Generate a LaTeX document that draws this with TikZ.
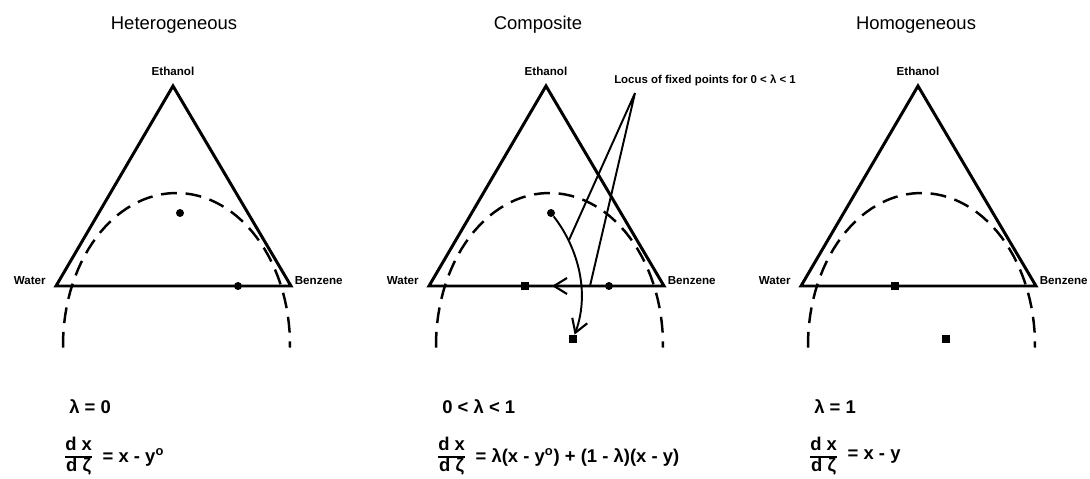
\documentclass[tikz,border=0pt]{standalone}
\usepackage{fontspec}
\setmainfont{Liberation Sans}
\usetikzlibrary{arrows.meta,positioning}

\newcommand{\dxdz}{{\renewcommand{\arraystretch}{0.95}\setlength{\arrayrulewidth}{0.8pt}%
  \begin{tabular}{@{}c@{}}d x\\\hline d ζ\end{tabular}}}

\begin{document}
\begin{tikzpicture}[
    x=0.02cm, y=-0.02cm,
    triline/.style={line width=1.7pt, line join=miter},
    binodal/.style={line width=1.4pt, dash pattern=on 9pt off 5pt},
    pathline/.style={line width=1.1pt},
    corner/.style={inner sep=0pt, font=\fontsize{6.6}{8}\selectfont\bfseries},
    paneltitle/.style={inner sep=0pt, font=\fontsize{10.5}{12}\selectfont},
    eqtext/.style={inner sep=0pt, anchor=west, font=\fontsize{10.5}{12}\selectfont\bfseries},
    fixdot/.style={circle, fill, inner sep=0pt, minimum size=0.16cm},
    fixsq/.style={rectangle, fill, inner sep=0pt, minimum size=0.16cm},
    flowarrow/.style={pathline, -{Straight Barb[length=2.6mm, width=3.2mm, line width=1.2pt]}}
  ]
  \useasboundingbox (0,0) rectangle (1090,479);

  % the three ternary diagrams share the frame
  \foreach \px/\dx/\ttl/\lam/\rhs [count=\i] in {
      173/1/Heterogeneous/{λ = 0}/{= x - y\textsuperscript{o}},
      546/-8/Composite/{0 < λ < 1}/{= λ(x - y\textsuperscript{o}) + (1 - λ)(x - y)},
      918/-2/Homogeneous/{λ = 1}/{= x - y}} {
    \begin{scope}[shift={(\px,0)}]
      \coordinate (eth\i) at (0,86);
      \coordinate (wat\i) at (-117,286);
      \coordinate (ben\i) at (118,286);
      \draw[triline] (wat\i) -- (eth\i) -- (ben\i) -- cycle;
      \draw[binodal] plot[domain=181:-1, samples=60] ({3.5+113.5*cos(\x)},{345-152*sin(\x)});
      \node[paneltitle] (title\i) at (\dx,25) {\ttl};
      \node[corner, above=0.2cm of eth\i] (ethlbl\i) {Ethanol};
      \node[corner, left=0.2cm of wat\i, yshift=3pt] (watlbl\i) {Water};
      \node[corner, right=0.07cm of ben\i, yshift=3pt] (benlbl\i) {Benzene};
      \node[eqtext] (lam\i) at (-104,407) {\lam};
      \node[eqtext] (frac\i) at (-108,457) {\dxdz};
      \node[eqtext, right=0.2cm of frac\i] (rhs\i) {\rhs};
    \end{scope}
  }

  % heterogeneous
  \node[fixdot] (p1) at (180,213) {};
  \node[fixdot] (q1) at (238,286) {};

  % composite
  \node[fixdot] (p2) at (551,213) {};
  \node[fixsq] (s2) at (525,286) {};
  \node[fixdot] (q2) at (609,286) {};
  \node[fixsq] (r2) at (573,339) {};
  \coordinate (tip2) at (552,286);
  \draw[flowarrow] (q2) -- (tip2);
  \draw[flowarrow] (p2) .. controls (576,245) and (591,290) .. (r2);
  \node[corner, font=\fontsize{6.5}{7}\selectfont\bfseries] (locus) at (705,80) {Locus of fixed points for 0 < λ < 1};
  \coordinate (lapex) at (635,93);
  \coordinate (lc2) at (569,240);
  \coordinate (lb2) at (590,286);
  \draw[pathline] (lc2) -- (lapex) -- (lb2);

  % homogeneous
  \node[fixsq] (s3) at (895,286) {};
  \node[fixsq] (r3) at (946,339) {};
\end{tikzpicture}
\end{document}
